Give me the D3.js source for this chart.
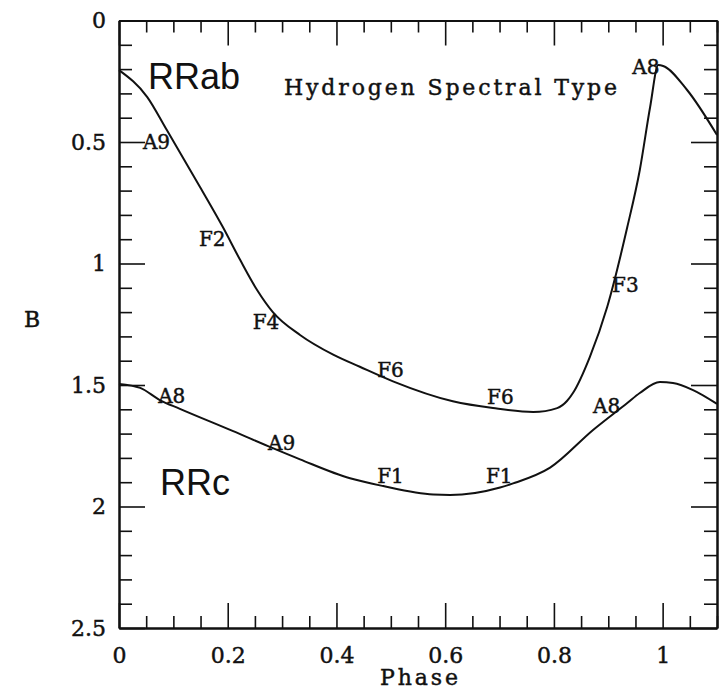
<!DOCTYPE html>
<html>
<head>
<meta charset="utf-8">
<script src="https://cdn.jsdelivr.net/npm/d3@7"></script>
<style>
  body { margin: 0; background: #fff; }
  svg text { font-family: "DejaVu Serif", serif; fill: #111; }
  svg text.serif { stroke: #111; stroke-width: 0.45px; }
</style>
</head>
<body>
<svg id="chart"></svg>
<script>
const width = 720;
const height = 691;

// RRab light curve (phase, B)
const rrabPhase = [0, 0.052, 0.088, 0.149, 0.191, 0.223, 0.254, 0.283, 0.333, 0.394, 0.443, 0.504, 0.614, 0.688, 0.762, 0.806, 0.824, 0.835, 0.866, 0.898, 0.935, 0.958, 0.977, 0.992, 1.001, 1.045, 1.1];
const rrabB = [0.204, 0.315, 0.451, 0.685, 0.85, 0.986, 1.109, 1.2, 1.294, 1.375, 1.425, 1.485, 1.567, 1.595, 1.611, 1.595, 1.566, 1.533, 1.385, 1.179, 0.85, 0.615, 0.356, 0.183, 0.187, 0.286, 0.471];

// RRc light curve (phase, B)
const rrcPhase = [0, 0.039, 0.075, 0.112, 0.21, 0.283, 0.333, 0.425, 0.486, 0.578, 0.609, 0.701, 0.725, 0.793, 0.872, 0.935, 0.958, 0.995, 1.019, 1.056, 1.1];
const rrcB = [1.496, 1.512, 1.562, 1.598, 1.69, 1.76, 1.806, 1.884, 1.916, 1.951, 1.953, 1.922, 1.905, 1.84, 1.685, 1.574, 1.533, 1.488, 1.492, 1.521, 1.578];

// spectral type annotations (text starts at phase, baseline at B)
const rrabTypes = ["A9", "F2", "F4", "F6", "F6", "F3", "A8"];
const rrabTypePhase = [0.044, 0.147, 0.246, 0.475, 0.677, 0.907, 0.944];
const rrabTypeB = [0.529, 0.928, 1.27, 1.467, 1.578, 1.117, 0.22];

const rrcTypes = ["A8", "A9", "F1", "F1", "A8"];
const rrcTypePhase = [0.072, 0.274, 0.475, 0.675, 0.872];
const rrcTypeB = [1.574, 1.768, 1.903, 1.903, 1.615];

const xMajor = [0, 0.2, 0.4, 0.6, 0.8, 1];
const xLabels = ["0", "0.2", "0.4", "0.6", "0.8", "1"];
const yMajor = [0, 0.5, 1, 1.5, 2, 2.5];
const yLabels = ["0", "0.5", "1", "1.5", "2", "2.5"];

const xMinor = d3.range(0, 1.1001, 0.05).filter((v) => Math.abs(v / 0.2 - Math.round(v / 0.2)) > 1e-6);
const yMinor = d3.range(0, 2.5001, 0.1).filter((v) => Math.abs(v / 0.5 - Math.round(v / 0.5)) > 1e-6);

const plotLeft = 119, plotRight = 717, plotTop = 20.5, plotBottom = 628;

const x = d3.scaleLinear().domain([0, 1.1]).range([plotLeft, plotRight]);
const y = d3.scaleLinear().domain([0, 2.5]).range([plotTop, plotBottom]);

const svg = d3.select("#chart").attr("width", width).attr("height", height);

function styleAxis(g) {
	g.selectAll("path.domain").attr("stroke", "#111").attr("stroke-width", 2);
	g.selectAll(".tick line").attr("stroke", "#111").attr("stroke-width", 1.6);
	g.selectAll(".tick text").attr("class", "serif").attr("font-size", 22).attr("font-family", "DejaVu Serif, serif").attr("fill", "#111");
}

// minor ticks
svg.append("g").attr("transform", `translate(0,${plotBottom})`)
	.call(d3.axisBottom(x).tickValues(xMinor).tickSizeInner(-12).tickSizeOuter(0).tickFormat(""))
	.call(styleAxis);
svg.append("g").attr("transform", `translate(0,${plotTop})`)
	.call(d3.axisTop(x).tickValues(xMinor).tickSizeInner(-12).tickSizeOuter(0).tickFormat(""))
	.call(styleAxis);
svg.append("g").attr("transform", `translate(${plotLeft},0)`)
	.call(d3.axisLeft(y).tickValues(yMinor).tickSizeInner(-13).tickSizeOuter(0).tickFormat(""))
	.call(styleAxis);
svg.append("g").attr("transform", `translate(${plotRight},0)`)
	.call(d3.axisRight(y).tickValues(yMinor).tickSizeInner(-13).tickSizeOuter(0).tickFormat(""))
	.call(styleAxis);

// major ticks + labels
svg.append("g").attr("transform", `translate(0,${plotBottom})`)
	.call(d3.axisBottom(x).tickValues(xMajor).tickSizeInner(-25).tickSizeOuter(0).tickPadding(19)
		.tickFormat((d, i) => xLabels[i]))
	.call(styleAxis);
svg.append("g").attr("transform", `translate(0,${plotTop})`)
	.call(d3.axisTop(x).tickValues(xMajor).tickSizeInner(-25).tickSizeOuter(0).tickFormat(""))
	.call(styleAxis);
svg.append("g").attr("transform", `translate(${plotLeft},0)`)
	.call(d3.axisLeft(y).tickValues(yMajor).tickSizeInner(-26).tickSizeOuter(0).tickPadding(13)
		.tickFormat((d, i) => yLabels[i]))
	.call(styleAxis);
svg.append("g").attr("transform", `translate(${plotRight},0)`)
	.call(d3.axisRight(y).tickValues(yMajor).tickSizeInner(-26).tickSizeOuter(0).tickFormat(""))
	.call(styleAxis);

// curves
const line = d3.line().curve(d3.curveMonotoneX).x((d) => x(d[0])).y((d) => y(d[1]));

svg.append("path")
	.datum(rrabPhase.map((p, i) => [p, rrabB[i]]))
	.attr("fill", "none").attr("stroke", "#111").attr("stroke-width", 2)
	.attr("d", line);

svg.append("path")
	.datum(rrcPhase.map((p, i) => [p, rrcB[i]]))
	.attr("fill", "none").attr("stroke", "#111").attr("stroke-width", 2)
	.attr("d", line);

// spectral type labels
function typeLabels(names, ph, bb) {
	names.forEach((t, i) => {
		svg.append("text")
			.attr("class", "serif")
			.attr("x", x(ph[i]))
			.attr("y", y(bb[i]))
			.attr("font-size", 20)
			.text(t);
	});
}
typeLabels(rrabTypes, rrabTypePhase, rrabTypeB);
typeLabels(rrcTypes, rrcTypePhase, rrcTypeB);

// titles
svg.append("text")
	.attr("x", 148).attr("y", 89)
	.style("font-family", "'Liberation Sans', Arial, sans-serif")
	.attr("font-size", 36)
	.text("RRab");

svg.append("text")
	.attr("x", 160).attr("y", 495)
	.style("font-family", "'Liberation Sans', Arial, sans-serif")
	.attr("font-size", 36)
	.text("RRc");

svg.append("text")
	.attr("class", "serif")
	.attr("x", 284).attr("y", 95)
	.attr("font-size", 22)
	.attr("textLength", 333)
	.attr("lengthAdjust", "spacing")
	.text("Hydrogen Spectral Type");

svg.append("text")
	.attr("class", "serif")
	.attr("x", 32).attr("y", 327)
	.attr("text-anchor", "middle")
	.attr("font-size", 22)
	.text("B");

svg.append("text")
	.attr("class", "serif")
	.attr("x", 380).attr("y", 685)
	.attr("font-size", 22)
	.attr("textLength", 78)
	.attr("lengthAdjust", "spacing")
	.text("Phase");
</script>
</body>
</html>
